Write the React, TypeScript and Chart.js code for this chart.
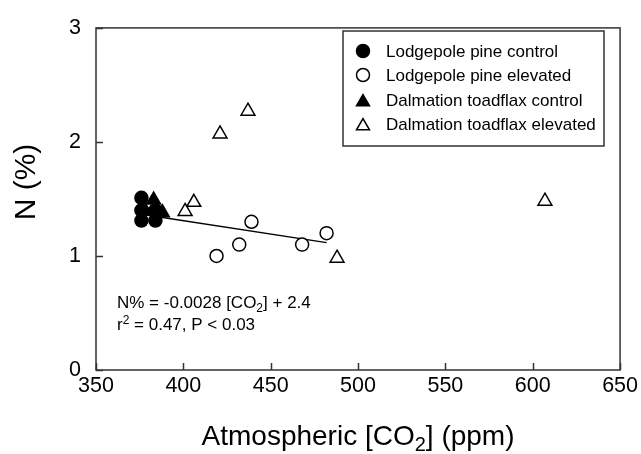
import React, { useEffect, useRef } from "react";
import { Chart, registerables } from "chart.js";

Chart.register(...registerables);

// ---- data ----
const lpControlX = [376, 376, 376, 384, 384];
const lpControlY = [1.51, 1.40, 1.31, 1.31, 1.40];
const lpElevatedX = [419, 432, 439, 468, 482];
const lpElevatedY = [1.0, 1.1, 1.3, 1.1, 1.2];
const dtControlX = [383, 378, 388];
const dtControlY = [1.49, 1.40, 1.38];
const dtElevatedX = [401, 406, 421, 437, 488, 607];
const dtElevatedY = [1.39, 1.47, 2.07, 2.27, 0.98, 1.48];
const fitX = [376, 482];
const fitY = [1.366, 1.117];

const seriesNames = [
  "Lodgepole pine control",
  "Lodgepole pine elevated",
  "Dalmation toadflax control",
  "Dalmation toadflax elevated",
];
const xTickStep = 50;
const yTickStep = 1;

const FONT = "'Liberation Sans', Arial, Helvetica, sans-serif";

const toPts = (xs: number[], ys: number[]) => xs.map((x, i) => ({ x, y: ys[i] }));

type Piece = { t: string; s?: "sub" | "sup" };

function drawRich(ctx: CanvasRenderingContext2D, pieces: Piece[], x: number, y: number, size: number, align: "left" | "center") {
  const measure = () => {
    let w = 0;
    for (const p of pieces) {
      ctx.font = `${p.s ? Math.round(size * 0.7) : size}px ${FONT}`;
      w += ctx.measureText(p.t).width;
    }
    return w;
  };
  let cx = align === "center" ? x - measure() / 2 : x;
  ctx.textBaseline = "alphabetic";
  ctx.textAlign = "left";
  for (const p of pieces) {
    const fs = p.s ? Math.round(size * 0.7) : size;
    ctx.font = `${fs}px ${FONT}`;
    const dy = p.s === "sub" ? size * 0.22 : p.s === "sup" ? -size * 0.38 : 0;
    ctx.fillText(p.t, cx, y + dy);
    cx += ctx.measureText(p.t).width;
  }
}

function drawMarker(ctx: CanvasRenderingContext2D, style: string, filled: boolean, x: number, y: number, r: number) {
  ctx.beginPath();
  if (style === "circle") {
    ctx.arc(x, y, r, 0, Math.PI * 2);
  } else {
    ctx.moveTo(x, y - r);
    ctx.lineTo(x + r * Math.sin((2 * Math.PI) / 3), y - r * Math.cos((2 * Math.PI) / 3));
    ctx.lineTo(x + r * Math.sin((4 * Math.PI) / 3), y - r * Math.cos((4 * Math.PI) / 3));
    ctx.closePath();
  }
  ctx.fillStyle = filled ? "#000" : "#fff";
  ctx.fill();
  ctx.lineWidth = 1.5;
  ctx.strokeStyle = "#000";
  ctx.stroke();
}

const decorPlugin = {
  id: "decor",
  afterDraw(chart: any) {
    const ctx: CanvasRenderingContext2D = chart.ctx;
    const { left, right, top, bottom } = chart.chartArea;
    const xs = chart.scales.x;
    const ys = chart.scales.y;
    ctx.save();
    // frame
    ctx.strokeStyle = "#333";
    ctx.lineWidth = 1.5;
    ctx.strokeRect(left, top, right - left, bottom - top);
    // inward ticks
    ctx.beginPath();
    for (const t of xs.ticks) {
      const px = Math.round(xs.getPixelForValue(t.value)) + 0.5;
      ctx.moveTo(px, bottom);
      ctx.lineTo(px, bottom - 7);
    }
    for (const t of ys.ticks) {
      const py = Math.round(ys.getPixelForValue(t.value)) + 0.5;
      ctx.moveTo(left, py);
      ctx.lineTo(left + 7, py);
    }
    ctx.stroke();

    // legend
    const lx = 343, ly = 31, lw = 261, lh = 115;
    ctx.strokeStyle = "#333";
    ctx.lineWidth = 1.5;
    ctx.strokeRect(lx, ly, lw, lh);
    const rows = [51, 75, 100, 124];
    const styles = [
      ["circle", true],
      ["circle", false],
      ["triangle", true],
      ["triangle", false],
    ] as const;
    rows.forEach((ry, i) => {
      const [st, f] = styles[i];
      if (st === "circle") drawMarker(ctx, st, f, 363, ry, 6.5);
      else drawMarker(ctx, st, f, 363, ry + 2, 7.5);
      ctx.fillStyle = "#000";
      ctx.font = `17px ${FONT}`;
      ctx.textAlign = "left";
      ctx.textBaseline = "middle";
      ctx.fillText(seriesNames[i], 386, ry + 1);
    });

    // annotation
    ctx.fillStyle = "#000";
    drawRich(ctx, [{ t: "N% = -0.0028 [CO" }, { t: "2", s: "sub" }, { t: "] + 2.4" }], 117, 308, 17, "left");
    drawRich(ctx, [{ t: "r" }, { t: "2", s: "sup" }, { t: " = 0.47, P < 0.03" }], 117, 330, 17, "left");

    // x title
    drawRich(ctx, [{ t: "Atmospheric [CO" }, { t: "2", s: "sub" }, { t: "] (ppm)" }], (left + right) / 2, 445, 28, "center");

    // y title
    ctx.save();
    ctx.translate(35, 182);
    ctx.rotate(-Math.PI / 2);
    ctx.font = `30px ${FONT}`;
    ctx.textAlign = "center";
    ctx.textBaseline = "alphabetic";
    ctx.fillText("N (%)", 0, 0);
    ctx.restore();

    ctx.restore();
  },
};

export default function App() {
  const ref = useRef<HTMLCanvasElement>(null);
  useEffect(() => {
    if (!ref.current) return;
    const openStyle = { backgroundColor: "#fff", borderColor: "#000", borderWidth: 1.5 };
    const filledStyle = { backgroundColor: "#000", borderColor: "#000", borderWidth: 1.5 };
    const chart = new Chart(ref.current, {
      type: "scatter",
      data: {
        datasets: [
          {
            label: seriesNames[0],
            data: toPts(lpControlX, lpControlY),
            pointStyle: "circle",
            pointRadius: 6.5,
            ...filledStyle,
            order: 1,
          },
          {
            label: seriesNames[1],
            data: toPts(lpElevatedX, lpElevatedY),
            pointStyle: "circle",
            pointRadius: 6.5,
            ...openStyle,
            order: 1,
          },
          {
            label: seriesNames[2],
            data: toPts(dtControlX, dtControlY),
            pointStyle: "triangle",
            pointRadius: 8,
            ...filledStyle,
            order: 0,
          },
          {
            label: seriesNames[3],
            data: toPts(dtElevatedX, dtElevatedY),
            pointStyle: "triangle",
            pointRadius: 8,
            ...openStyle,
            order: 1,
          },
          {
            label: "fit",
            data: toPts(fitX, fitY),
            showLine: true,
            pointRadius: 0,
            borderColor: "#000",
            borderWidth: 1.5,
            backgroundColor: "#000",
            order: 5,
          } as any,
        ],
      },
      options: {
        responsive: false,
        animation: false,
        events: [],
        layout: { padding: { top: 20, right: 20, left: 0, bottom: 0 } },
        plugins: { legend: { display: false }, tooltip: { enabled: false } },
        scales: {
          x: {
            type: "linear",
            min: 350,
            max: 650,
            afterFit: (s: any) => {
              s.height = 84;
            },
            ticks: { stepSize: xTickStep, color: "#000", font: { family: FONT, size: 21.5 }, padding: 3, maxRotation: 0 },
            grid: { display: false, drawTicks: false },
            border: { display: false },
          },
          y: {
            type: "linear",
            min: 0,
            max: 3,
            afterFit: (s: any) => {
              s.width = 96;
            },
            ticks: { stepSize: yTickStep, color: "#000", font: { family: FONT, size: 21.5 }, padding: 15 },
            grid: { display: false, drawTicks: false },
            border: { display: false },
          },
        },
      },
      plugins: [decorPlugin],
    });
    return () => chart.destroy();
  }, []);
  return (
    <div style={{ position: "fixed", left: 0, top: 0, width: 641, height: 454, background: "#fff" }}>
      <canvas ref={ref} width={641} height={454} style={{ display: "block" }} />
    </div>
  );
}
